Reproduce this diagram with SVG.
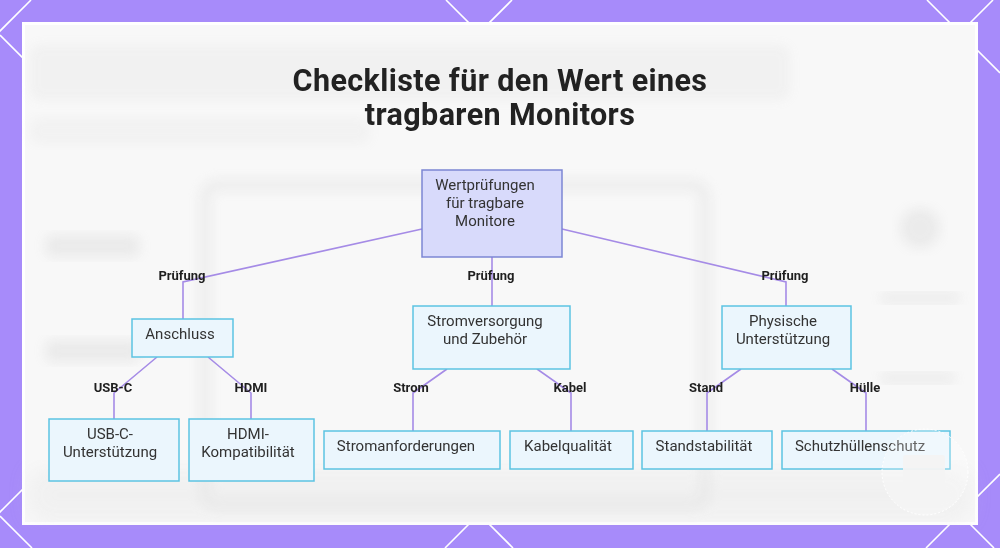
<svg xmlns="http://www.w3.org/2000/svg" width="1000" height="548" viewBox="0 0 1000 548">
<defs>
<filter id="blur" x="-20%" y="-20%" width="140%" height="140%"><feGaussianBlur stdDeviation="6"/></filter>
<filter id="blur2" x="-20%" y="-20%" width="140%" height="140%"><feGaussianBlur stdDeviation="12"/></filter>
<style>
.lat{stroke:#ffffff;stroke-width:1.6;fill:none}
.root{fill:#d8dafb;stroke:#7c86d4;stroke-width:1.5}
.leaf{fill:#ebf6fd;stroke:#5cc3e2;stroke-width:1.5}
.nt{font-family:Roboto,"Liberation Sans",sans-serif;font-size:15px;fill:#333333;text-anchor:middle}
.el{font-family:Roboto,"Liberation Sans",sans-serif;font-size:13px;font-weight:bold;fill:#1f1f1f;text-anchor:middle}
.title{font-family:Roboto,"Liberation Sans",sans-serif;font-size:30.5px;letter-spacing:0.4px;font-weight:bold;fill:#222222;text-anchor:middle}
.con{stroke:#a58be6;stroke-width:1.6;fill:none}
.bg{fill:#c8c8c8}
</style>
</defs>
<!-- backdrop -->
<rect x="0" y="0" width="1000" height="548" fill="#a78bfa"/>
<g id="lattice">
<line class="lat" x1="31" y1="0" x2="-200" y2="231"/>
<line class="lat" x1="512" y1="0" x2="-36" y2="548"/>
<line class="lat" x1="993" y1="0" x2="445" y2="548"/>
<line class="lat" x1="1000" y1="474" x2="926" y2="548"/>
<line class="lat" x1="0" y1="35" x2="513" y2="548"/>
<line class="lat" x1="446" y1="0" x2="994" y2="548"/>
<line class="lat" x1="927" y1="0" x2="1000" y2="73"/>
<line class="lat" x1="0" y1="516" x2="32" y2="548"/>
</g>
<rect x="22" y="22" width="956" height="503" fill="#ffffff"/>
<rect x="25" y="25" width="950" height="497" fill="#f8f8f8"/>
<g id="blurred-backdrop" opacity="0.45">
<rect x="30" y="45" width="760" height="55" rx="10" class="bg" filter="url(#blur)" opacity="0.3"/>
<rect x="30" y="118" width="340" height="26" rx="8" class="bg" filter="url(#blur)" opacity="0.25"/>
<rect x="205" y="185" width="500" height="320" rx="12" fill="none" stroke="#d8d8d8" stroke-width="12" filter="url(#blur)" opacity="0.7"/>
<rect x="30" y="470" width="940" height="50" class="bg" filter="url(#blur2)" opacity="0.35"/>
<circle cx="920" cy="228" r="20" class="bg" filter="url(#blur)" opacity="0.6"/>
<rect x="880" y="293" width="80" height="10" rx="5" class="bg" filter="url(#blur)" opacity="0.6"/>
<rect x="880" y="373" width="75" height="10" rx="5" class="bg" filter="url(#blur)" opacity="0.6"/>
<rect x="45" y="235" width="95" height="22" rx="8" class="bg" filter="url(#blur)" opacity="0.6"/>
<rect x="45" y="340" width="95" height="22" rx="8" class="bg" filter="url(#blur)" opacity="0.6"/>
</g>
<g id="title">
<text class="title" x="500" y="91">Checkliste für den Wert eines</text>
<text class="title" x="500" y="125">tragbaren Monitors</text>
</g>
<g id="connectors">
<polyline class="con" points="422,229 183,282 183,319"/>
<polyline class="con" points="492,257 492,306"/>
<polyline class="con" points="562,229 786,282 786,306"/>
<polyline class="con" points="157,357 114,393 114,419"/>
<polyline class="con" points="208,357 251,393 251,419"/>
<polyline class="con" points="447,369 413,393 413,431"/>
<polyline class="con" points="537,369 571,393 571,431"/>
<polyline class="con" points="741,369 707,393 707,431"/>
<polyline class="con" points="832,369 866,393 866,431"/>
<text class="el" x="182" y="279.5">Prüfung</text>
<text class="el" x="491" y="279.5">Prüfung</text>
<text class="el" x="785" y="279.5">Prüfung</text>
<text class="el" x="113" y="391.5">USB-C</text>
<text class="el" x="251" y="391.5">HDMI</text>
<text class="el" x="411" y="391.5">Strom</text>
<text class="el" x="570" y="391.5">Kabel</text>
<text class="el" x="706" y="391.5">Stand</text>
<text class="el" x="865" y="391.5">Hülle</text>
</g>
<g id="root">
<rect class="root" x="422" y="170" width="140" height="87"/>
<text class="nt" x="485" y="189.5">Wertprüfungen</text>
<text class="nt" x="485" y="207.5">für tragbare</text>
<text class="nt" x="485" y="225.5">Monitore</text>
</g>
<g id="anschluss">
<rect class="leaf" x="132" y="319" width="101" height="38"/>
<text class="nt" x="180" y="338.5">Anschluss</text>
</g>
<g id="stromversorgung">
<rect class="leaf" x="413" y="306" width="157" height="63"/>
<text class="nt" x="485" y="325.5">Stromversorgung</text>
<text class="nt" x="485" y="343.5">und Zubehör</text>
</g>
<g id="physisch">
<rect class="leaf" x="722" y="306" width="129" height="63"/>
<text class="nt" x="783" y="325.5">Physische</text>
<text class="nt" x="783" y="343.5">Unterstützung</text>
</g>
<g id="usbc">
<rect class="leaf" x="49" y="419" width="130" height="62"/>
<text class="nt" x="110" y="438.5">USB-C-</text>
<text class="nt" x="110" y="456.5">Unterstützung</text>
</g>
<g id="hdmi">
<rect class="leaf" x="189" y="419" width="125" height="62"/>
<text class="nt" x="248" y="438.5">HDMI-</text>
<text class="nt" x="248" y="456.5">Kompatibilität</text>
</g>
<g id="stromanf">
<rect class="leaf" x="324" y="431" width="176" height="38"/>
<text class="nt" x="406" y="450.5">Stromanforderungen</text>
</g>
<g id="kabel">
<rect class="leaf" x="510" y="431" width="123" height="38"/>
<text class="nt" x="568" y="450.5">Kabelqualität</text>
</g>
<g id="stand">
<rect class="leaf" x="642" y="431" width="130" height="38"/>
<text class="nt" x="704" y="450.5">Standstabilität</text>
</g>
<g id="huelle">
<rect class="leaf" x="782" y="431" width="168" height="38"/>
<text class="nt" x="860" y="450.5">Schutzhüllenschutz</text>
</g>
<g id="badge">
<circle cx="925" cy="472" r="43" fill="#ffffff" fill-opacity="0.25" stroke="#ffffff" stroke-width="1" stroke-dasharray="2 2"/>
<rect x="903" y="455" width="42" height="35" rx="3" fill="#f3f3f3" fill-opacity="0.95"/>
</g>
</svg>
